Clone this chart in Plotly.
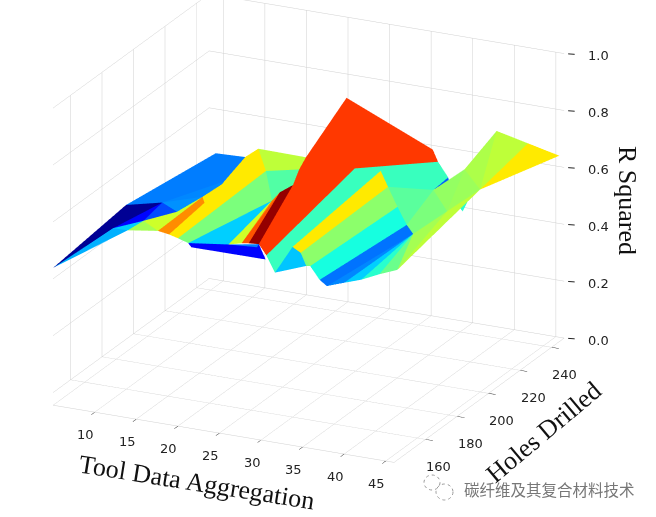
import math
import plotly.graph_objects as go

# surface vertices (irregular mesh, like a trisurf)
pt_x = [5.0, 5.05, 8.41, 12.07, 8.66, 5.61, 9.15, 10.98, 11.59, 12.32, 12.07, 14.76, 10.73, 13.54, 16.22, 15.71,
        11.83, 18.05, 17.44, 16.46, 16.59, 19.63, 21.34, 25.0, 22.93, 23.78, 18.63, 18.78, 28.66, 25.73, 21.34,
        31.71, 33.29, 27.07, 27.8, 28.29, 30.0, 30.73, 33.54, 30.12, 30.98, 32.2, 34.02, 34.27, 36.1, 35.98, 37.93,
        44.5, 40.0, 41.68, 43.1, 40.24, 39.39, 45.98, 42.78, 38.17, 34.63, 37.05, 34.51, 34.76, 36.83, 37.8, 37.2]
pt_y = [140, 186, 160, 150, 190, 240, 240, 220, 200, 180, 160, 155, 240, 230, 160, 157,
        200, 210, 160, 240, 235, 215, 165, 165, 165, 165, 212, 155, 150, 160, 240,
        240, 235, 215, 155, 225, 160, 145, 150, 220, 160, 215, 150, 210, 145, 205, 140,
        150, 140, 142, 146, 225, 240, 245, 242, 215, 225, 232, 235, 235, 230, 230, 230]
pt_z = [.483, .518, .558, .609, .528, .484, .488, .498, .522, .554, .602, .600, .525, .501, .561, .584,
        .502, .500, .550, .523, .501, .542, .544, .563, .556, .560, .524, .562, .588, .576, .756,
        .625, .610, .637, .578, .594, .598, .572, .589, .567, .582, .527, .591, .494, .573, .491, .580,
        .629, .602, .613, .623, .587, .728, .653, .693, .541, .558, .614, .561, .534, .487, .513, .475]

face_i = [0, 0, 4, 0, 2, 4, 1, 1, 4, 4, 4, 3, 10, 9, 11, 11, 15, 15, 16, 16, 16, 16, 14, 14, 12, 12, 13, 13, 18,
          22, 24, 24, 25, 25, 18, 22, 22, 29, 22, 23, 23, 33, 33, 34, 34, 34, 37, 36, 38, 36, 36, 40, 40, 42, 42,
          44, 44, 46, 48, 49, 50, 47, 47, 45, 56, 57, 57, 52, 54, 35, 35, 35, 39, 41, 43, 56, 60,
          33, 23, 21, 20]
face_j = [1, 4, 10, 2, 10, 9, 5, 6, 6, 7, 8, 10, 9, 8, 15, 16, 14, 13, 13, 12, 6, 7, 18, 17, 19, 20, 20, 21, 17,
          17, 17, 26, 26, 21, 27, 27, 28, 28, 29, 34, 33, 32, 31, 33, 35, 36, 36, 40, 40, 35, 39, 39, 41, 41, 43,
          43, 45, 45, 45, 45, 45, 45, 55, 56, 57, 51, 52, 54, 53, 32, 58, 56, 56, 56, 56, 58, 61,
          32, 21, 20, 19]
face_k = [4, 2, 2, 3, 3, 10, 6, 4, 7, 8, 9, 11, 11, 11, 16, 8, 13, 16, 12, 6, 7, 8, 17, 13, 20, 13, 21, 17, 22,
          24, 26, 25, 21, 23, 22, 28, 29, 23, 23, 33, 30, 31, 30, 35, 36, 37, 38, 38, 42, 39, 40, 41, 42, 43, 44,
          45, 46, 48, 49, 50, 47, 55, 51, 55, 55, 55, 51, 51, 51, 58, 56, 39, 41, 43, 45, 59, 62,
          35, 30, 30, 30]
face_level = [.02, .07, .13, .30, .33, .2, .25, .25, .25, .26, .27, .55, .6, .6, .76, .76, .66, .66, .66, .66, .66, .66,
              .5, .5, .58, .58, .45, .45, .33, .6, .78, .82, .98, .98, .13, .13, .13, .13, .25, .85, .85, .85, .85,
              .42, .42, .42, .32, .32, .5, .66, .66, .52, .52, .38, .38, .24, .24, .26, .33, .4, .48, .55, .58,
              .5, .53, .54, .56, .58, .66, .42, .42, .42, .46, .46, .5, .22, .4,
              .42, .85, .85, .85]

jet_stops = [[0, "rgb(0,0,127)"], [.11, "rgb(0,0,255)"], [.125, "rgb(0,0,255)"], [.34, "rgb(0,219,255)"],
             [.35, "rgb(0,230,247)"], [.375, "rgb(20,255,226)"], [.64, "rgb(239,255,8)"], [.66, "rgb(255,236,0)"],
             [.89, "rgb(255,19,0)"], [.91, "rgb(232,0,0)"], [1, "rgb(127,0,0)"]]

x_ticks = [5, 10, 15, 20, 25, 30, 35, 40, 45]
y_ticks = [160, 180, 200, 220, 240]
z_ticks = [0, 0.2, 0.4, 0.6, 0.8, 1.0]
x_range = [3.3, 46]
y_range = [140, 248]

fig = go.Figure()
fig.add_trace(go.Mesh3d(x=pt_x, y=pt_y, z=pt_z, i=face_i, j=face_j, k=face_k,
                        intensity=face_level, intensitymode="cell", colorscale=jet_stops, cmin=0, cmax=1,
                        showscale=False, flatshading=True, hoverinfo="skip",
                        lighting=dict(ambient=1, diffuse=0, specular=0, roughness=1, fresnel=0)))

tick_font = dict(family="DejaVu Sans", size=13, color="#222222")
labels = []
for v in x_ticks[1:]:
    labels.append(dict(x=v, y=y_range[0], z=0, text=str(v), showarrow=False, xshift=-9, yshift=-22, font=tick_font))
for v in y_ticks:
    labels.append(dict(x=x_range[1], y=v, z=0, text=str(v), showarrow=False, xshift=13, yshift=-27, font=tick_font))
for v in z_ticks:
    labels.append(dict(x=x_range[1], y=y_range[1], z=v, text="%.1f" % v, showarrow=False, xshift=34, yshift=-2, font=tick_font))
    labels.append(dict(x=x_range[1], y=y_range[1], z=v, text=" ", showarrow=True, arrowhead=0, arrowwidth=1,
                       arrowcolor="#222222", ax=14, ay=1, standoff=4, font=tick_font))

az = math.radians(-64.4)
el = math.radians(20.5)
r = 3
cx, cy, cz = 0.202, 0.052, -0.11
axis_style = dict(showbackground=False, gridcolor="#d0d0d0", gridwidth=1, showline=True, linecolor="#d0d0d0",
                  zeroline=False, showspikes=False, showticklabels=False, title=dict(text=""))
title_font = dict(family="Liberation Serif", size=26, color="#111111")
fig.update_layout(
    width=656, height=517, margin=dict(l=0, r=0, t=0, b=0), paper_bgcolor="white",
    scene=dict(
        domain=dict(x=[53 / 656, 1], y=[0, 1]),
        xaxis=dict(range=x_range, tickvals=x_ticks, ticks="outside", ticklen=8, tickcolor="#000000", **axis_style),
        yaxis=dict(range=y_range, tickvals=y_ticks, ticks="outside", ticklen=8, tickcolor="#000000", **axis_style),
        zaxis=dict(range=[0, 1], tickvals=z_ticks, ticks="", **axis_style),
        aspectmode="manual", aspectratio=dict(x=1.523, y=1.523, z=1.175),
        annotations=labels,
        camera=dict(projection=dict(type="orthographic"),
                    center=dict(x=cx, y=cy, z=cz),
                    eye=dict(x=cx + r * math.cos(el) * math.cos(az), y=cy + r * math.cos(el) * math.sin(az), z=cz + r * math.sin(el))),
    ),
    annotations=[
        dict(x=197 / 656, y=1 - 482 / 517, xref="paper", yref="paper", xanchor="center", yanchor="middle",
             text="Tool Data Aggregation", textangle=9, showarrow=False, font=title_font),
        dict(x=543 / 656, y=1 - 432 / 517, xref="paper", yref="paper", xanchor="center", yanchor="middle",
             text="Holes Drilled", textangle=-40, showarrow=False, font=title_font),
        dict(x=628 / 656, y=1 - 200 / 517, xref="paper", yref="paper", xanchor="center", yanchor="middle",
             text="R Squared", textangle=90, showarrow=False, font=title_font),
        dict(x=549 / 656, y=1 - 489 / 517, xref="paper", yref="paper", xanchor="center", yanchor="middle",
             text="碳纤维及其复合材料技术", showarrow=False,
             font=dict(family="Noto Sans CJK SC", size=15.5, color="#777777")),
    ],
    shapes=[
        dict(type="circle", xref="paper", yref="paper", x0=424 / 656, x1=440 / 656, y0=1 - 490 / 517, y1=1 - 475 / 517,
             line=dict(color="#999999", width=1, dash="dot")),
        dict(type="circle", xref="paper", yref="paper", x0=436 / 656, x1=453 / 656, y0=1 - 500 / 517, y1=1 - 484 / 517,
             line=dict(color="#999999", width=1, dash="dot")),
    ],
)
fig.write_html("out.html", config={"displayModeBar": False}, post_script="document.body.style.margin = '0';")
